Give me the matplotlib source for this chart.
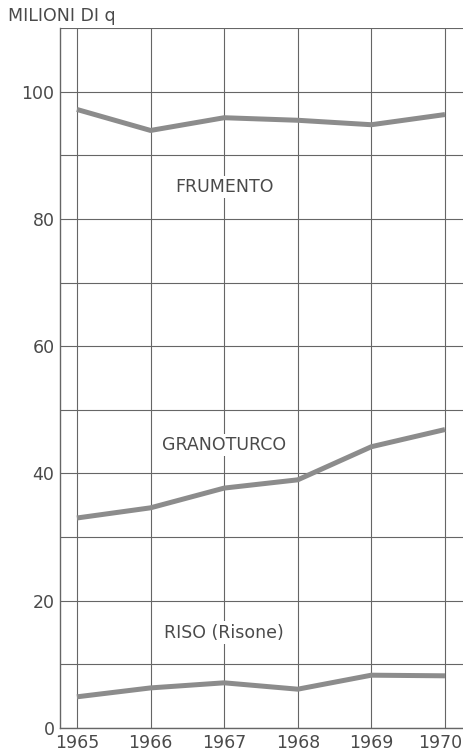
import matplotlib
matplotlib.use("Agg")
import matplotlib.pyplot as plt
import matplotlib.transforms as mtransforms

years = [1965, 1966, 1967, 1968, 1969, 1970]
frumento = [97.2, 93.9, 95.9, 95.5, 94.8, 96.4]
granoturco = [33.0, 34.6, 37.7, 39.0, 44.2, 46.9]
riso = [4.9, 6.3, 7.1, 6.1, 8.3, 8.2]

labels = ["FRUMENTO", "GRANOTURCO", "RISO (Risone)"]
label_pos = [(1967.0, 85.0), (1967.0, 44.5), (1967.0, 15.0)]

yticks = [0, 20, 40, 60, 80, 100]
ygrid = list(range(0, 111, 10))

txt = "#4a4a4a"
grid_c = "#666666"
line_c = "#8c8c8c"

fig = plt.figure(figsize=(4.63, 7.55), dpi=100)
ax = fig.add_axes([60/463, 1-728/755, 1-60/463, (728-28)/755])
ax.set_xlim(1964.77, 1970.245)
ax.set_ylim(0, 110)

for g in ygrid:
    ax.axhline(g, color=grid_c, lw=0.8, zorder=1)
for yr in years:
    ax.axvline(yr, color=grid_c, lw=0.8, zorder=1)

for s in [frumento, granoturco, riso]:
    ax.plot(years, s, color=line_c, lw=3.6, solid_capstyle="butt", zorder=3)

for lab, (x, y) in zip(labels, label_pos):
    ax.text(x, y, lab, ha="center", va="center", fontsize=12.5, color=txt,
            bbox=dict(facecolor="white", edgecolor="none", pad=1.5), zorder=2)

for sp in ["top", "right"]:
    ax.spines[sp].set_visible(False)
for sp in ["left", "bottom"]:
    ax.spines[sp].set_color(grid_c)
    ax.spines[sp].set_linewidth(1.0)

ax.set_xticks(years)
ax.set_xticklabels([str(y) for y in years])
ax.set_yticks(yticks)
ax.tick_params(length=0, labelsize=12.5, colors=txt, pad=4)
for t in ax.get_xticklabels() + ax.get_yticklabels():
    t.set_color(txt)
last = ax.get_xticklabels()[-1]
last.set_transform(last.get_transform() + mtransforms.ScaledTranslation(-5/100, 0, fig.dpi_scale_trans))

fig.text(8/463, 1-16/755, "MILIONI DI q", fontsize=12.5, color=txt, ha="left", va="center")

fig.savefig("out.png", dpi=100, facecolor="white")
